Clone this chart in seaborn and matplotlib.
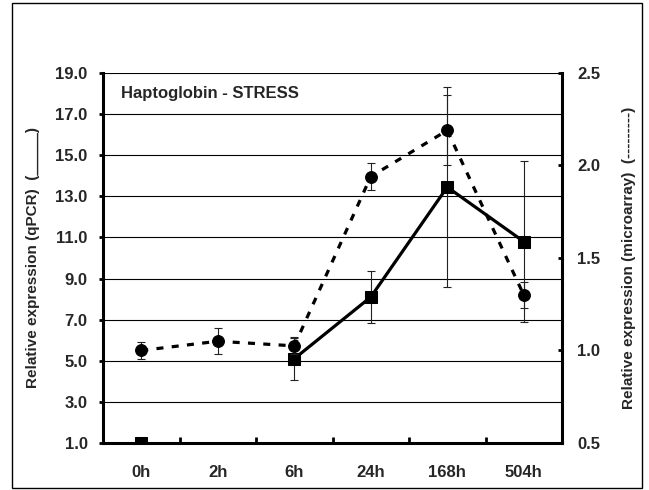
import numpy as np
import pandas as pd
import matplotlib
matplotlib.use("Agg")
import matplotlib.pyplot as plt
from matplotlib.patches import Rectangle
from matplotlib.ticker import FixedLocator, FormatStrFormatter
import seaborn as sns

sns.set_style("white")
plt.rcParams["font.family"] = ["Liberation Sans", "DejaVu Sans"]
plt.rcParams["font.weight"] = "bold"

# ==================================================
# DATA
# ==================================================

hours = ["0h", "2h", "6h", "24h", "168h", "504h"]

qpcr = [1.0, np.nan, 5.1, 8.1, 13.45, 10.8]
qpcr_err = [np.nan, np.nan, 1.05, 1.28, 4.85, 3.9]

micro = [1.0, 1.05, 1.025, 1.94, 2.19, 1.30]
micro_err = [0.045, 0.07, 0.045, 0.075, 0.19, 0.068]

left_ticks = [1.0, 3.0, 5.0, 7.0, 9.0, 11.0, 13.0, 15.0, 17.0, 19.0]
right_ticks = [0.5, 1.0, 1.5, 2.0, 2.5]

df = pd.DataFrame({
    "hour": hours,
    "pos": range(len(hours)),
    "qpcr": qpcr,
    "qpcr_err": qpcr_err,
    "micro": micro,
    "micro_err": micro_err,
})
# a missing value breaks the qPCR line into separate segments
df["seg"] = df["qpcr"].isna().cumsum()

# ==================================================
# FIGURE
# ==================================================

fig = plt.figure(figsize=(6.49, 4.9), dpi=100)
ax = fig.add_axes([103 / 649, 47 / 490, 459 / 649, 370 / 490])
ax2 = ax.twinx()

fig.patches.append(Rectangle((12 / 649, 2 / 490), 630 / 649, 485 / 490,
                             transform=fig.transFigure, fill=False,
                             lw=1.0, ec="black"))

# horizontal grid lines
for t in left_ticks:
    ax.axhline(t, color="black", lw=0.8, zorder=0)

# qPCR - solid line, squares
q = df.dropna(subset=["qpcr"])
qe = df.dropna(subset=["qpcr_err"])
ax.errorbar(qe["pos"], qe["qpcr"], yerr=qe["qpcr_err"], fmt="none",
            ecolor="#222222", elinewidth=0.8, capsize=3.2, capthick=0.8,
            zorder=2)
sns.lineplot(data=q, x="pos", y="qpcr", units="seg", estimator=None,
             color="black", lw=2.3, marker="s", markersize=8,
             markeredgecolor="black", ax=ax, zorder=3)

# microarray - dashed line, circles
ax2.errorbar(df["pos"], df["micro"], yerr=df["micro_err"], fmt="none",
             ecolor="#222222", elinewidth=0.8, capsize=3.2, capthick=0.8,
             zorder=2)
sns.lineplot(data=df, x="pos", y="micro", color="black", lw=2.3,
             marker="o", markersize=8.5, markeredgecolor="black",
             ax=ax2, zorder=3)
ax2.lines[-1].set_dashes([2.2, 2.6])

# ==================================================
# AXES
# ==================================================

ax.set_xlim(-0.5, 5.5)
ax.set_ylim(1.0, 19.0)
ax2.set_ylim(0.5, 2.5)

ax.set_xticks(range(len(hours)))
ax.set_xticklabels(hours, fontsize=12, fontweight="bold")
ax.xaxis.set_minor_locator(FixedLocator(np.arange(0.5, 5.6, 1.0)))
ax.tick_params(axis="x", which="major", length=0, pad=16)
ax.tick_params(axis="x", which="minor", direction="in", length=4,
               width=2, color="black", bottom=True)

ax.set_yticks(left_ticks)
ax.yaxis.set_major_formatter(FormatStrFormatter("%.1f"))
ax.tick_params(axis="y", direction="out", length=3, width=2,
               color="black", pad=8, labelsize=12, left=True)
for lab in ax.get_yticklabels():
    lab.set_fontweight("bold")

ax2.set_yticks(right_ticks)
ax2.yaxis.set_major_formatter(FormatStrFormatter("%.1f"))
ax2.tick_params(axis="y", direction="in", length=3, width=2,
                color="black", pad=11, labelsize=12, right=True)
for lab in ax2.get_yticklabels():
    lab.set_fontweight("bold")

for a in (ax, ax2):
    a.spines["top"].set_visible(False)
    for s in ("left", "bottom", "right"):
        a.spines[s].set_linewidth(2.2)
        a.spines[s].set_color("black")
ax.spines["right"].set_visible(False)
ax2.spines["left"].set_visible(False)
ax2.spines["bottom"].set_visible(False)

ax.set_xlabel("")
ax.set_ylabel("Relative expression (qPCR)  (_____)", fontsize=11,
              fontweight="bold")
ax.yaxis.set_label_coords(-0.137, 0.5)
ax2.set_ylabel("Relative expression (microarray)  (---------)", fontsize=11,
               fontweight="bold", rotation=90)
ax2.yaxis.set_label_coords(1.13, 0.5)

ax.text(0.04, 0.945, "Haptoglobin - STRESS", transform=ax.transAxes,
        fontsize=12, fontweight="bold", va="center", ha="left")

fig.savefig("out.png", dpi=100)
